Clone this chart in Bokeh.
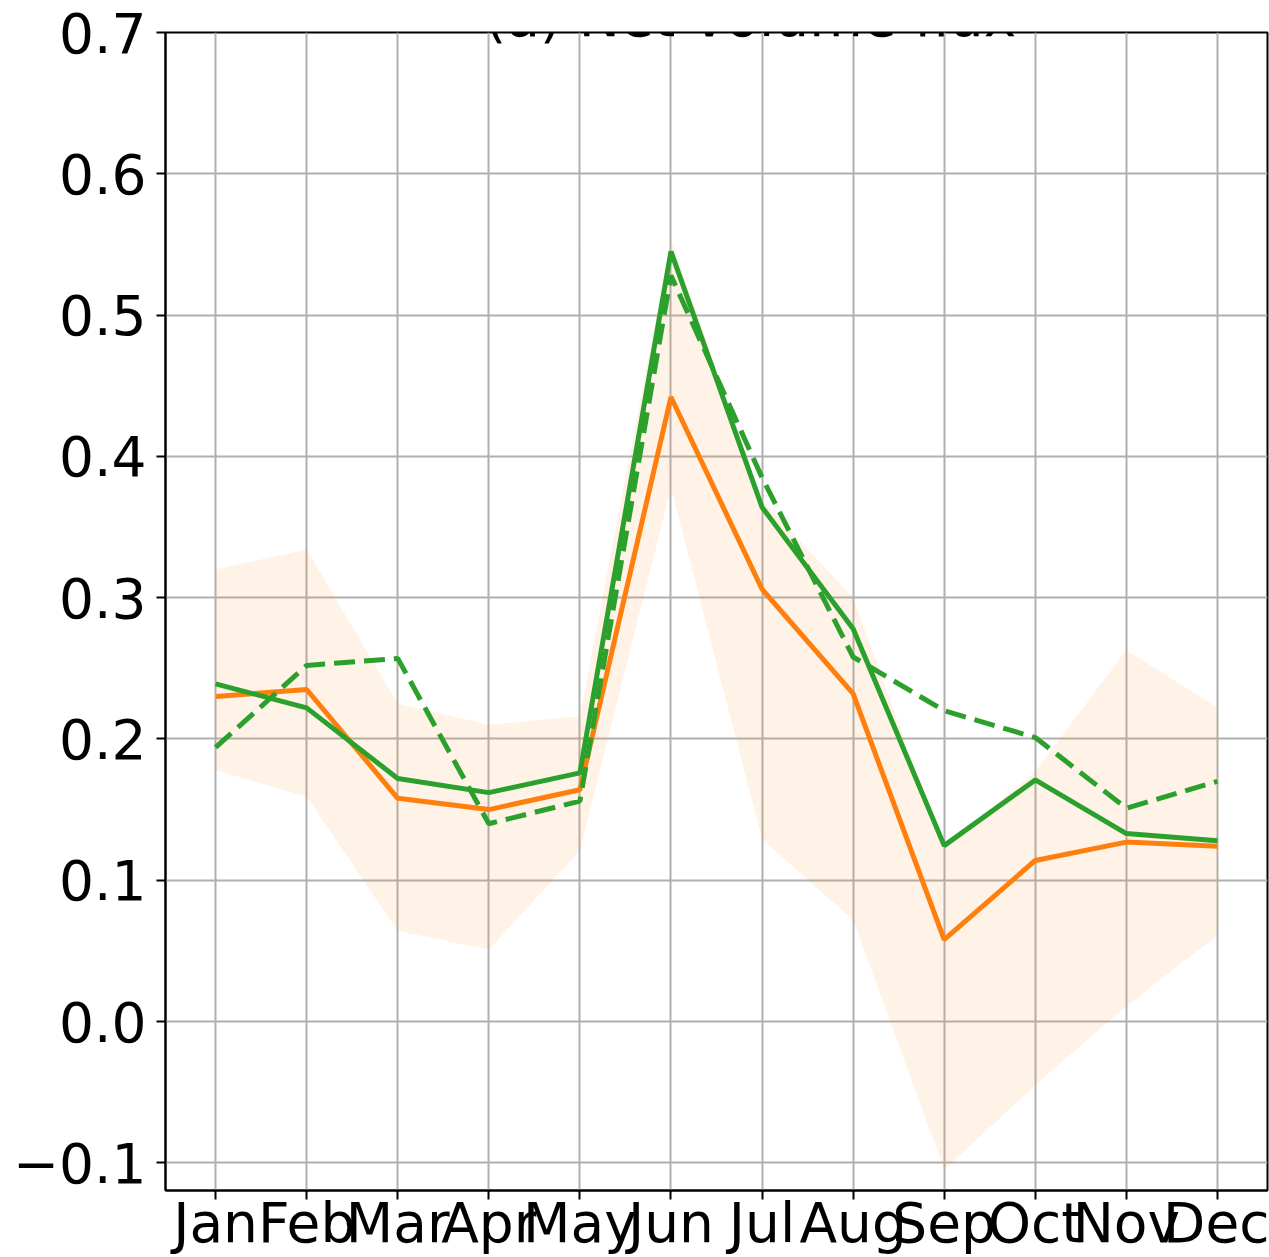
from bokeh.plotting import figure
from bokeh.models import Range1d, FixedTicker, Label
from bokeh.embed import file_html
from bokeh.resources import INLINE

months = ["Jan", "Feb", "Mar", "Apr", "May", "Jun", "Jul", "Aug", "Sep", "Oct", "Nov", "Dec"]
month_idx = list(range(12))

ens_mean = [0.230, 0.235, 0.158, 0.150, 0.164, 0.442, 0.306, 0.232, 0.058, 0.114, 0.127, 0.124]
ens_upper = [0.320, 0.334, 0.225, 0.210, 0.216, 0.553, 0.369, 0.300, 0.122, 0.177, 0.263, 0.222]
ens_lower = [0.178, 0.159, 0.064, 0.051, 0.121, 0.378, 0.129, 0.072, -0.105, -0.045, 0.011, 0.061]
green_solid = [0.239, 0.222, 0.172, 0.162, 0.176, 0.545, 0.364, 0.278, 0.1245, 0.171, 0.133, 0.128]
green_dashed = [0.194, 0.252, 0.257, 0.140, 0.156, 0.528, 0.385, 0.258, 0.220, 0.201, 0.151, 0.170]

y_ticks = [-0.1, 0.0, 0.1, 0.2, 0.3, 0.4, 0.5, 0.6, 0.7]
y_tick_labels = ["\u22120.1", "0.0", "0.1", "0.2", "0.3", "0.4", "0.5", "0.6", "0.7"]
title_text = "(a) Net volume flux"

FONT = "DejaVu Sans"
FS = "55px"

p = figure(width=1269, height=1257, output_backend="svg", toolbar_location=None,
           x_range=Range1d(-0.55, 11.55), y_range=Range1d(-0.1196, 0.7),
           min_border_left=165, min_border_right=2, min_border_top=32, min_border_bottom=67)
p.background_fill_color = "white"
p.border_fill_color = "white"
p.outline_line_color = "black"
p.outline_line_width = 2
p.outline_line_alpha = 1.0

p.varea(x=month_idx, y1=ens_lower, y2=ens_upper, fill_color="#ff7f0e", fill_alpha=0.1)
p.line(month_idx, ens_mean, line_color="#ff7f0e", line_width=5)
p.line(month_idx, green_solid, line_color="#2ca02c", line_width=5)
p.line(month_idx, green_dashed, line_color="#2ca02c", line_width=5, line_dash="21 9")

for ax in (p.xaxis[0], p.yaxis[0]):
    ax.axis_line_color = "black"
    ax.axis_line_width = 2
    ax.major_tick_line_color = "black"
    ax.major_tick_line_width = 2
    ax.major_tick_out = 9
    ax.major_tick_in = 0
    ax.minor_tick_line_color = None
    ax.major_label_text_font = FONT
    ax.major_label_text_font_size = FS
    ax.major_label_text_color = "black"

p.xaxis[0].ticker = FixedTicker(ticks=month_idx)
p.xaxis[0].major_label_overrides = {i: m for i, m in zip(month_idx, months)}
p.xaxis[0].major_label_standoff = -9

p.yaxis[0].ticker = FixedTicker(ticks=y_ticks)
p.yaxis[0].major_label_overrides = {t: l for t, l in zip(y_ticks, y_tick_labels)}
p.yaxis[0].major_label_standoff = 10

p.xgrid.grid_line_color = "#b0b0b0"
p.ygrid.grid_line_color = "#b0b0b0"
p.xgrid.grid_line_width = 2
p.ygrid.grid_line_width = 2

p.add_layout(Label(x=5.873, y=0.7111, text=title_text, text_align="center",
                   text_baseline="alphabetic", text_font=FONT, text_font_size=FS,
                   text_color="black"))

open("out.html", "w").write(file_html(p, INLINE))
